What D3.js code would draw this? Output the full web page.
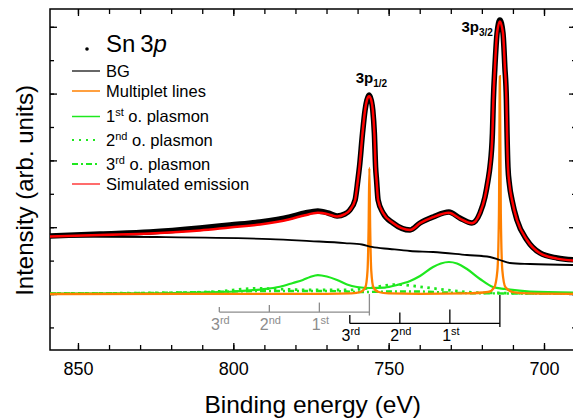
<!DOCTYPE html>
<meta charset="utf-8">

<script src="https://d3js.org/d3.v7.min.js"></script>

<div id="xpschart"></div>

<style>
  body { margin: 0; background: white; }
  text { font-family: "Liberation Sans", Arial, sans-serif; }
</style>

<script>

  // [binding energy (eV), intensity], intensity in y-tick units
  const measured = [
    [859.0, 0.868], [842.9, 0.898], [826.8, 0.928], [810.7, 0.988], [801.1, 1.033],
    [791.4, 1.078], [781.8, 1.153], [776.9, 1.213], [772.8, 1.243], [769.5, 1.213],
    [766.6, 1.168], [764.1, 1.198], [762.5, 1.257], [760.8, 1.407], [759.9, 1.707],
    [759.4, 1.900], [758.4, 2.410], [757.6, 2.750], [757.0, 2.900], [756.3, 2.980],
    [755.6, 2.900], [755.1, 2.750], [754.6, 2.410], [754.2, 1.900], [753.9, 1.707],
    [753.4, 1.407], [751.8, 1.213], [748.6, 1.063], [743.1, 0.958], [739.9, 1.063],
    [735.7, 1.153], [730.6, 1.228], [727.1, 1.138], [723.2, 1.063], [720.6, 1.213],
    [719.0, 1.452], [718.0, 1.707], [717.4, 1.901], [716.6, 2.410], [716.3, 2.904],
    [715.8, 3.398], [715.1, 3.907], [714.2, 4.102], [713.2, 3.907], [712.6, 3.398],
    [712.1, 2.904], [711.9, 2.410], [711.6, 1.901], [711.1, 1.632], [710.3, 1.407],
    [708.7, 1.108], [705.5, 0.808], [701.3, 0.614], [695.8, 0.539], [689.7, 0.509]
  ];

  const simulated = [
    [859.0, 0.862], [842.9, 0.885], [826.8, 0.905], [810.7, 0.950], [801.1, 0.995],
    [791.4, 1.040], [781.8, 1.120], [776.9, 1.180], [772.8, 1.215], [769.5, 1.195],
    [766.6, 1.160], [764.1, 1.195], [762.5, 1.255], [760.8, 1.407], [759.9, 1.707],
    [759.4, 1.900], [758.4, 2.410], [757.6, 2.750], [757.0, 2.900], [756.3, 2.960],
    [755.6, 2.900], [755.1, 2.750], [754.6, 2.410], [754.2, 1.900], [753.9, 1.707],
    [753.4, 1.407], [751.8, 1.213], [748.6, 1.063], [743.1, 0.958], [739.9, 1.060],
    [735.7, 1.150], [730.6, 1.215], [727.1, 1.130], [723.2, 1.060], [720.6, 1.213],
    [719.0, 1.452], [718.0, 1.707], [717.4, 1.901], [716.6, 2.410], [716.3, 2.904],
    [715.8, 3.398], [715.1, 3.907], [714.2, 4.080], [713.2, 3.907], [712.6, 3.398],
    [712.1, 2.904], [711.9, 2.410], [711.6, 1.901], [711.1, 1.632], [710.3, 1.407],
    [708.7, 1.108], [705.5, 0.808], [701.3, 0.610], [695.8, 0.530], [689.7, 0.500]
  ];

  const background = [
    [859.0, 0.861], [824.6, 0.853], [788.2, 0.823], [775.3, 0.793], [764.1, 0.763],
    [758.6, 0.741], [755.4, 0.704], [749.6, 0.674], [743.1, 0.644], [735.7, 0.629],
    [724.8, 0.584], [717.4, 0.554], [714.2, 0.509], [711.0, 0.464], [704.5, 0.449],
    [689.7, 0.434]
  ];

  const multiplet = [
    [859.0, 0.0], [770.0, 0.003], [762.0, 0.01], [759.0, 0.03], [757.5, 0.1],
    [756.8, 0.35], [756.45, 1.0], [756.2, 1.886], [755.95, 1.0], [755.6, 0.35],
    [754.9, 0.1], [753.2, 0.03], [750.0, 0.01], [740.0, 0.003], [725.0, 0.01],
    [718.0, 0.03], [716.0, 0.1], [715.0, 0.35], [714.5, 1.2], [714.2, 3.26],
    [713.9, 1.2], [713.4, 0.35], [712.4, 0.1], [710.0, 0.03], [705.0, 0.01],
    [689.7, 0.003]
  ];

  const plasmon1 = [
    [859.0, 0.007], [833.3, 0.010], [801.1, 0.034], [791.4, 0.067], [785.0, 0.109],
    [780.8, 0.165], [777.6, 0.210], [775.3, 0.254], [772.8, 0.284], [769.9, 0.262],
    [766.6, 0.210], [763.4, 0.142], [760.2, 0.105], [756.0, 0.090], [751.2, 0.097],
    [747.3, 0.135], [743.1, 0.195], [739.9, 0.269], [735.7, 0.404], [733.2, 0.457],
    [730.6, 0.479], [728.0, 0.457], [724.8, 0.374], [720.6, 0.225], [716.4, 0.105],
    [712.6, 0.075], [704.5, 0.037], [689.7, 0.022]
  ];

  const plasmon2 = [
    [859.0, 0.007], [826.8, 0.015], [806.5, 0.034], [792.4, 0.085], [785.0, 0.075],
    [774.4, 0.060], [763.4, 0.060], [756.0, 0.090], [751.2, 0.127], [747.3, 0.142],
    [739.9, 0.109], [731.2, 0.060], [720.6, 0.019], [689.7, 0.007]
  ];

  const plasmon3 = [
    [859.0, 0.007], [817.2, 0.022], [801.1, 0.037], [790.5, 0.045], [768.9, 0.045],
    [758.3, 0.030], [749.6, 0.037], [739.9, 0.037], [731.2, 0.022], [720.6, 0.010],
    [689.7, 0.007]
  ];

  const peakEnergies = [756.2, 714.2];   // 3p1/2, 3p3/2
  const peakTops = [2.98, 4.10];
  const plasmonEnergy = 16.1;
  const orderLabels = [["1", "st"], ["2", "nd"], ["3", "rd"]];
  const xTickLabels = [850, 800, 750, 700];

  const margin = { top: 9, right: -3, bottom: 69, left: 50 },
    width = 573 - margin.left - margin.right,
    height = 419 - margin.top - margin.bottom;

  const svg = d3.select("#xpschart")
    .append("svg")
    .attr("width", 573)
    .attr("height", 419)
    .append("g")
    .attr("transform", `translate(${margin.left},${margin.top})`);

  const x = d3.scaleLinear()
    .domain([859.0, 689.7])
    .range([0, width]);

  const y = d3.scaleLinear()
    .domain([-0.838, 4.266])
    .range([height, 0]);

  // axes: minor ticks every 10 eV, labels every 50
  const minorX = d3.range(690, 860, 10);
  const minorY = d3.range(-0.5, 4.01, 0.5);
  const majorY = d3.range(0, 4.01, 1);

  svg.append("g")
    .attr("transform", `translate(0,${height})`)
    .call(d3.axisBottom(x).tickValues(minorX).tickSize(-5).tickFormat(""));
  svg.append("g")
    .attr("transform", `translate(0,${height})`)
    .call(d3.axisBottom(x).tickValues(xTickLabels).tickSize(-7).tickPadding(12).tickFormat(d3.format("d")))
    .selectAll("text").style("font-size", "18px").attr("fill", "#000");
  svg.append("g")
    .call(d3.axisTop(x).tickValues(minorX).tickSize(-5).tickFormat(""));
  svg.append("g")
    .call(d3.axisTop(x).tickValues(xTickLabels).tickSize(-7).tickFormat(""));
  svg.append("g")
    .call(d3.axisLeft(y).tickValues(minorY).tickSize(-4).tickFormat(""));
  svg.append("g")
    .call(d3.axisLeft(y).tickValues(majorY).tickSize(-7).tickFormat(""));
  svg.append("g")
    .attr("transform", `translate(${width},0)`)
    .call(d3.axisRight(y).tickValues(minorY).tickSize(-4).tickFormat(""));
  svg.append("g")
    .attr("transform", `translate(${width},0)`)
    .call(d3.axisRight(y).tickValues(majorY).tickSize(-7).tickFormat(""));
  svg.selectAll(".domain").remove();
  svg.selectAll(".tick line").attr("stroke", "#000").attr("stroke-width", 1.3);

  svg.append("rect")
    .attr("width", width)
    .attr("height", height)
    .attr("fill", "none")
    .attr("stroke", "#000")
    .attr("stroke-width", 1.5);

  // axis titles
  svg.append("text")
    .attr("x", x(750) - 76)
    .attr("y", height + 63)
    .attr("text-anchor", "middle")
    .style("font-size", "24.5px")
    .text("Binding energy (eV)");
  svg.append("text")
    .attr("transform", `translate(${-17},${y(1.55)}) rotate(-90)`)
    .attr("text-anchor", "middle")
    .style("font-size", "24px")
    .text("Intensity (arb. units)");

  const line = d3.line()
    .x(d => x(d[0]))
    .y(d => y(d[1]))
    .curve(d3.curveMonotoneX);

  const plot = svg.append("g");

  plot.append("path").datum(plasmon3)
    .attr("d", line).attr("fill", "none")
    .attr("stroke", "#1ee81e").attr("stroke-width", 2.4).attr("stroke-dasharray", "6 3 2 3");
  plot.append("path").datum(plasmon2)
    .attr("d", line).attr("fill", "none")
    .attr("stroke", "#1ee81e").attr("stroke-width", 2.8).attr("stroke-dasharray", "2.5 4.5");
  plot.append("path").datum(plasmon1)
    .attr("d", line).attr("fill", "none")
    .attr("stroke", "#1ee81e").attr("stroke-width", 2.2);
  plot.append("path").datum(multiplet)
    .attr("d", line).attr("fill", "none")
    .attr("stroke", "#ff8000").attr("stroke-width", 2.3);
  plot.append("path").datum(background)
    .attr("d", line).attr("fill", "none")
    .attr("stroke", "#000").attr("stroke-width", 1.8);
  plot.append("path").datum(measured)
    .attr("d", line).attr("fill", "none")
    .attr("stroke", "#000").attr("stroke-width", 5.5).attr("stroke-linejoin", "round");
  plot.append("path").datum(simulated)
    .attr("d", line).attr("fill", "none")
    .attr("stroke", "#ff0000").attr("stroke-width", 2.5).attr("stroke-linejoin", "round");

  // plasmon scale bars below each peak
  const bars = [
    { peak: peakEnergies[0], level: -0.27, top: 0, color: "#8c8c8c", ticks: [9.5, 7, 5], labelY: 330 },
    { peak: peakEnergies[1], level: -0.44, top: -0.015, color: "#000", ticks: [14, 11, 8.5], labelY: 341 }
  ];
  bars.forEach(b => {
    const g = svg.append("g").attr("stroke", b.color).attr("stroke-width", 1.3);
    const yb = y(b.level);
    g.append("line")
      .attr("x1", x(b.peak + 3 * plasmonEnergy)).attr("x2", x(b.peak))
      .attr("y1", yb).attr("y2", yb);
    g.append("line")
      .attr("x1", x(b.peak)).attr("x2", x(b.peak))
      .attr("y1", y(b.top)).attr("y2", yb + 3.5);
    orderLabels.forEach((o, i) => {
      const xe = x(b.peak + (i + 1) * plasmonEnergy);
      g.append("line")
        .attr("x1", xe).attr("x2", xe)
        .attr("y1", yb).attr("y2", yb - b.ticks[i]);
      const t = svg.append("text")
        .attr("x", xe + 1)
        .attr("y", b.labelY - margin.top)
        .attr("text-anchor", "middle")
        .attr("fill", b.color)
        .style("font-size", "16px");
      t.append("tspan").text(o[0]);
      t.append("tspan").attr("dy", -6).style("font-size", "11px").text(o[1]);
    });
  });

  // peak labels
  const p12 = svg.append("text")
    .attr("x", x(peakEnergies[0]) + 2)
    .attr("y", y(peakTops[0]) - 12)
    .attr("text-anchor", "middle")
    .style("font-size", "15px").style("font-weight", "bold");
  p12.append("tspan").text("3p");
  p12.append("tspan").attr("dy", 4).style("font-size", "10px").text("1/2");

  const p32 = svg.append("text")
    .attr("x", x(peakEnergies[1]) - 7)
    .attr("y", y(peakTops[1]) + 12)
    .attr("text-anchor", "end")
    .style("font-size", "15px").style("font-weight", "bold");
  p32.append("tspan").text("3p");
  p32.append("tspan").attr("dy", 4).style("font-size", "10px").text("3/2");

  // legend
  const legend = svg.append("g").attr("transform", `translate(${72 - margin.left},${-margin.top})`);
  legend.append("circle").attr("cx", 15).attr("cy", 49).attr("r", 1.8).attr("fill", "#000");
  const title = legend.append("text").attr("x", 34).attr("y", 52).style("font-size", "24px");
  title.append("tspan").text("Sn\u2009" + "3");
  title.append("tspan").style("font-style", "italic").text("p");

  const legendItems = [
    { label: ["BG"], color: "#000", width: 1.2, dash: null, yy: 71 },
    { label: ["Multiplet lines"], color: "#ff8000", width: 1.5, dash: null, yy: 91 },
    { label: ["1", "st", " o. plasmon"], color: "#1ee81e", width: 1.5, dash: null, yy: 116.5 },
    { label: ["2", "nd", " o. plasmon"], color: "#1ee81e", width: 2.2, dash: "2 5", yy: 140 },
    { label: ["3", "rd", " o. plasmon"], color: "#1ee81e", width: 2, dash: "6 3 2 3", yy: 164 },
    { label: ["Simulated emission"], color: "#ff3b3b", width: 1.5, dash: null, yy: 184 }
  ];
  legendItems.forEach(it => {
    legend.append("line")
      .attr("x1", 0).attr("x2", 28)
      .attr("y1", it.yy).attr("y2", it.yy)
      .attr("stroke", it.color).attr("stroke-width", it.width)
      .attr("stroke-dasharray", it.dash);
    const t = legend.append("text").attr("x", 34).attr("y", it.yy + 5.5).style("font-size", "16.5px");
    t.append("tspan").text(it.label[0]);
    if (it.label.length > 1) {
      t.append("tspan").attr("dy", -6).style("font-size", "11px").text(it.label[1]);
      t.append("tspan").attr("dy", 6).text(it.label[2]);
    }
  });

</script>
